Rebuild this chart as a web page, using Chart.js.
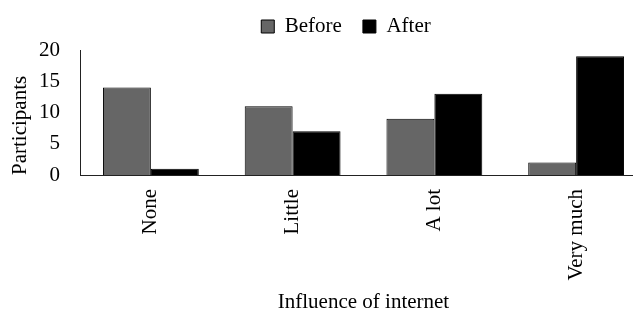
<!DOCTYPE html>
<html>
<head>
<meta charset="utf-8">
<script src="https://cdn.jsdelivr.net/npm/chart.js@4"></script>
<style>
  html, body { margin: 0; padding: 0; background: #fff; overflow: hidden; width: 633px; height: 310px; }
  #wrap { width: 650px; height: 310px; }
</style>
</head>
<body>
<div id="wrap"><canvas id="c" width="650" height="310"></canvas></div>
<script>
const categories = ["None", "Little", "A lot", "Very much"];
const beforeValues = [14, 11, 9, 2];
const afterValues = [1, 7, 13, 19];
const yTicks = [0, 5, 10, 15, 20];

const FONT = "'Times New Roman', 'Liberation Serif', serif";

const legendShift = {
  id: 'legendShift',
  afterLayout(chart) {
    const lg = chart.legend;
    if (!lg) return;
    const targetCx = 346;
    const dx = targetCx - (lg.left + lg.right) / 2;
    lg.left += dx; lg.right += dx;
    const h = lg.bottom - lg.top;
    lg.top = -5; lg.bottom = lg.top + h;
  }
};

new Chart(document.getElementById('c'), {
  type: 'bar',
  data: {
    labels: categories,
    datasets: [
      { label: 'Before', data: beforeValues, backgroundColor: '#666666', borderColor: '#000000', borderWidth: 1 },
      { label: 'After', data: afterValues, backgroundColor: '#000000', borderColor: '#000000', borderWidth: 1 }
    ]
  },
  options: {
    responsive: false,
    animation: false,
    devicePixelRatio: 1,
    layout: { padding: { left: 0, right: 3, top: -2, bottom: 0 } },
    datasets: { bar: { categoryPercentage: 0.676, barPercentage: 1.0 } },
    plugins: {
      legend: {
        position: 'top',
        labels: {
          font: { family: FONT, size: 21 },
          color: '#000',
          boxWidth: 13,
          boxHeight: 13,
          padding: 21
        }
      },
      tooltip: { enabled: false }
    },
    scales: {
      x: {
        grid: { display: false },
        border: { display: true, color: '#222', width: 1 },
        ticks: {
          autoSkip: false, minRotation: 90, maxRotation: 90,
          padding: 6, color: '#000',
          font: { family: FONT, size: 21 }
        },
        title: {
          display: true, text: 'Influence of internet', color: '#000',
          font: { family: FONT, size: 21, lineHeight: 0.67 },
          padding: { top: 0, bottom: 0 }
        },
        afterFit(scale) { scale.height = 135; }
      },
      y: {
        min: 0, max: 20,
        afterBuildTicks(scale) { scale.ticks = yTicks.map(v => ({ value: v })); },
        grid: { display: false },
        border: { display: true, color: '#222', width: 1 },
        ticks: { padding: 12, color: '#000', font: { family: FONT, size: 21 } },
        title: {
          display: true, text: 'Participants', color: '#000', align: 'start',
          font: { family: FONT, size: 21 },
          padding: { top: 8, bottom: 0 }
        },
        afterFit(scale) { scale.width = 80; }
      }
    }
  },
  plugins: [legendShift]
});
</script>
</body>
</html>
